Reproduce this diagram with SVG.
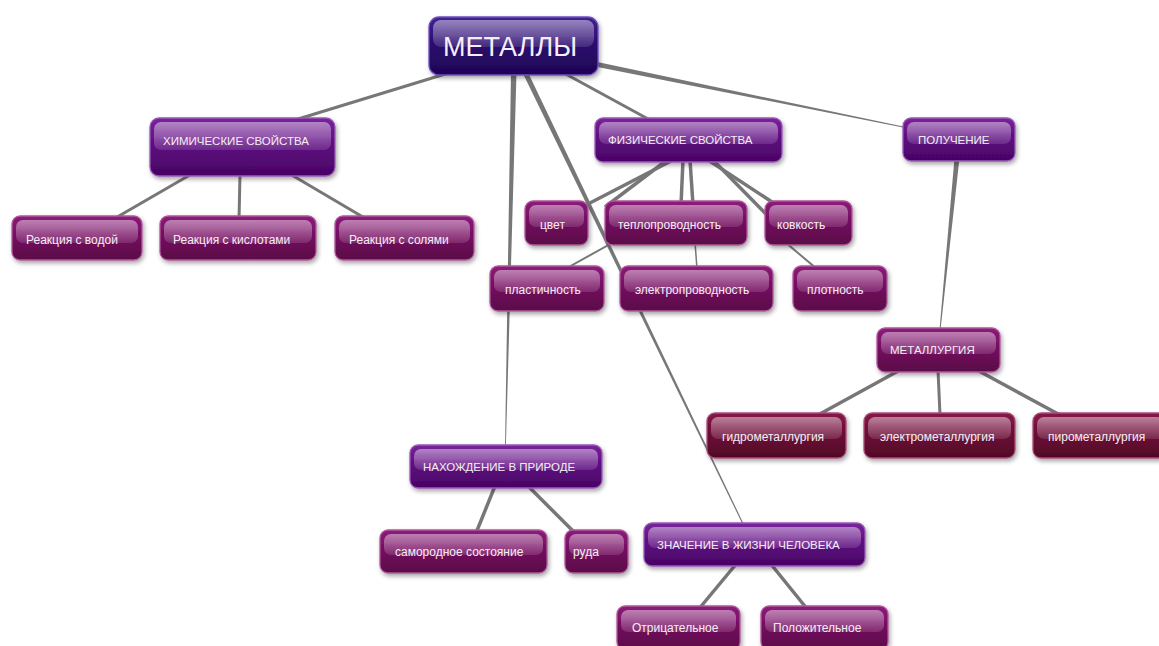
<svg xmlns="http://www.w3.org/2000/svg" width="1159" height="646" viewBox="0 0 1159 646">
<defs>
<linearGradient id="gM" x1="0" y1="0" x2="0" y2="1"><stop offset="0" stop-color="#42228e"/><stop offset="0.5" stop-color="#2a0a6c"/><stop offset="1" stop-color="#200556"/></linearGradient>
<linearGradient id="gP" x1="0" y1="0" x2="0" y2="1"><stop offset="0" stop-color="#78249a"/><stop offset="0.5" stop-color="#5c0a7e"/><stop offset="1" stop-color="#480564"/></linearGradient>
<linearGradient id="gL" x1="0" y1="0" x2="0" y2="1"><stop offset="0" stop-color="#8c1c7a"/><stop offset="0.5" stop-color="#720c5e"/><stop offset="1" stop-color="#5a0746"/></linearGradient>
<linearGradient id="gR" x1="0" y1="0" x2="0" y2="1"><stop offset="0" stop-color="#861848"/><stop offset="0.5" stop-color="#6a0a34"/><stop offset="1" stop-color="#520626"/></linearGradient>
<linearGradient id="gloss" x1="0" y1="0" x2="0" y2="1"><stop offset="0" stop-color="#fff" stop-opacity="0.45"/><stop offset="1" stop-color="#fff" stop-opacity="0.12"/></linearGradient>
<filter id="sh" x="-10%" y="-20%" width="125%" height="160%"><feDropShadow dx="1.5" dy="2.5" stdDeviation="2" flood-color="#000" flood-opacity="0.35"/></filter>
</defs>
<style>
.box{filter:url(#sh);stroke-width:1.3}
.m .box{fill:url(#gM);stroke:#6c50c0}
.p .box{fill:url(#gP);stroke:#9a5ab8}
.l .box{fill:url(#gL);stroke:#b05a9c}
.r .box{fill:url(#gR);stroke:#a8507a}
.gl{fill:url(#gloss)}
text{font-family:"Liberation Sans",Arial,sans-serif;fill:#f6eef6;font-size:12px}
.up{font-size:11.5px}
.big{font-size:27px}
#connectors line{stroke:#777;stroke-linecap:butt}
#connectors polygon{fill:#777}
</style>
<rect width="1159" height="646" fill="#fff"/>
<g id="connectors">
<line x1="455" y1="71" x2="285" y2="123" stroke-width="3"/>
<line x1="195" y1="172" x2="112" y2="220" stroke-width="3"/>
<line x1="240" y1="174" x2="239" y2="220" stroke-width="3"/>
<line x1="290" y1="174" x2="368" y2="220" stroke-width="3"/>
<line x1="562" y1="72" x2="650" y2="120" stroke-width="3"/>
<polygon points="511,72 516.5,72 505.8,448 505,448"/>
<polygon points="522.2,72 527.8,72 745.6,528 744.4,528"/>
<polygon points="595,61.5 908,127.5 908,128.5 595,66.5"/>
<polygon points="954.5,158 959.5,158 940.5,330 939.5,330"/>
<line x1="673" y1="160" x2="588" y2="204" stroke-width="3.5"/>
<line x1="667" y1="160" x2="605" y2="207" stroke-width="3.5"/>
<line x1="612" y1="243" x2="558" y2="273" stroke-width="2"/>
<line x1="683" y1="160" x2="681" y2="205" stroke-width="3.5"/>
<line x1="690" y1="160" x2="693" y2="205" stroke-width="3.5"/>
<line x1="695" y1="242" x2="697" y2="269" stroke-width="1.5"/>
<line x1="708" y1="160" x2="775" y2="204" stroke-width="3.5"/>
<line x1="713" y1="160" x2="766" y2="214" stroke-width="3.5"/>
<line x1="785" y1="242" x2="817" y2="269" stroke-width="2"/>
<line x1="900" y1="370" x2="818" y2="415" stroke-width="3.5"/>
<line x1="938" y1="370" x2="940" y2="415" stroke-width="3"/>
<line x1="977" y1="370" x2="1060" y2="415" stroke-width="3.5"/>
<line x1="495" y1="486" x2="476" y2="533" stroke-width="3.5"/>
<line x1="528" y1="486" x2="575" y2="533" stroke-width="3.5"/>
<line x1="737" y1="563" x2="698" y2="610" stroke-width="3.5"/>
<line x1="770" y1="563" x2="808" y2="610" stroke-width="3.5"/>
</g>
<g id="n-metally" class="m"><rect class="box" x="429" y="17" width="169" height="58" rx="10"/><rect class="gl" x="433" y="20" width="161" height="27" rx="8"/><text class="big" x="443" y="56">МЕТАЛЛЫ</text></g>
<g id="n-him" class="p"><rect class="box" x="150" y="118" width="185" height="58" rx="9"/><rect class="gl" x="154" y="122" width="177" height="28" rx="7"/><text class="up" x="163" y="145">ХИМИЧЕСКИЕ СВОЙСТВА</text></g>
<g id="n-voda" class="l"><rect class="box" x="12" y="216" width="130" height="44" rx="8"/><rect class="gl" x="16" y="220" width="122" height="23" rx="7"/><text x="26" y="244">Реакция с водой</text></g>
<g id="n-kisl" class="l"><rect class="box" x="160" y="216" width="156" height="44" rx="8"/><rect class="gl" x="164" y="220" width="148" height="23" rx="7"/><text x="173" y="244">Реакция с кислотами</text></g>
<g id="n-soli" class="l"><rect class="box" x="335" y="216" width="139" height="44" rx="8"/><rect class="gl" x="339" y="220" width="131" height="23" rx="7"/><text x="349" y="244">Реакция с солями</text></g>
<g id="n-fiz" class="p"><rect class="box" x="595" y="118" width="187" height="44" rx="8"/><rect class="gl" x="599" y="122" width="179" height="22" rx="7"/><text class="up" x="608" y="144">ФИЗИЧЕСКИЕ СВОЙСТВА</text></g>
<g id="n-poluch" class="p"><rect class="box" x="903" y="118" width="112" height="43" rx="8"/><rect class="gl" x="907" y="122" width="104" height="22" rx="7"/><text class="up" x="918" y="144">ПОЛУЧЕНИЕ</text></g>
<g id="n-cvet" class="l"><rect class="box" x="525" y="201" width="63" height="44" rx="8"/><rect class="gl" x="529" y="205" width="55" height="22" rx="7"/><text x="540" y="229">цвет</text></g>
<g id="n-teplo" class="l"><rect class="box" x="605" y="201" width="142" height="44" rx="8"/><rect class="gl" x="609" y="205" width="134" height="22" rx="7"/><text x="618" y="229">теплопроводность</text></g>
<g id="n-kovk" class="l"><rect class="box" x="765" y="201" width="87" height="44" rx="8"/><rect class="gl" x="769" y="205" width="79" height="22" rx="7"/><text x="777" y="229">ковкость</text></g>
<g id="n-plast" class="l"><rect class="box" x="490" y="266" width="114" height="45" rx="8"/><rect class="gl" x="494" y="270" width="106" height="22" rx="7"/><text x="505" y="294">пластичность</text></g>
<g id="n-elektro" class="l"><rect class="box" x="620" y="266" width="153" height="45" rx="8"/><rect class="gl" x="624" y="270" width="145" height="22" rx="7"/><text x="635" y="294">электропроводность</text></g>
<g id="n-plotn" class="l"><rect class="box" x="793" y="266" width="94" height="45" rx="8"/><rect class="gl" x="797" y="270" width="86" height="22" rx="7"/><text x="807" y="294">плотность</text></g>
<g id="n-metallurg" class="l"><rect class="box" x="877" y="328" width="123" height="44" rx="8"/><rect class="gl" x="881" y="332" width="115" height="22" rx="7"/><text class="up" x="890" y="354">МЕТАЛЛУРГИЯ</text></g>
<g id="n-gidro" class="r"><rect class="box" x="707" y="413" width="139" height="45" rx="8"/><rect class="gl" x="711" y="417" width="131" height="22" rx="7"/><text x="722" y="441">гидрометаллургия</text></g>
<g id="n-elmet" class="r"><rect class="box" x="864" y="413" width="151" height="45" rx="8"/><rect class="gl" x="868" y="417" width="143" height="22" rx="7"/><text x="880" y="441">электрометаллургия</text></g>
<g id="n-piro" class="r"><rect class="box" x="1033" y="413" width="135" height="45" rx="8"/><rect class="gl" x="1037" y="417" width="127" height="22" rx="7"/><text x="1048" y="441">пирометаллургия</text></g>
<g id="n-nahozh" class="p"><rect class="box" x="410" y="445" width="192" height="43" rx="8"/><rect class="gl" x="414" y="449" width="184" height="21" rx="7"/><text class="up" x="423" y="471">НАХОЖДЕНИЕ В ПРИРОДЕ</text></g>
<g id="n-samor" class="l"><rect class="box" x="380" y="530" width="167" height="43" rx="8"/><rect class="gl" x="384" y="534" width="159" height="21" rx="7"/><text x="395" y="556">самородное состояние</text></g>
<g id="n-ruda" class="l"><rect class="box" x="565" y="530" width="63" height="43" rx="8"/><rect class="gl" x="569" y="534" width="55" height="21" rx="7"/><text x="573" y="556">руда</text></g>
<g id="n-znach" class="p"><rect class="box" x="644" y="523" width="221" height="43" rx="8"/><rect class="gl" x="648" y="527" width="213" height="21" rx="7"/><text class="up" x="657" y="549">ЗНАЧЕНИЕ В ЖИЗНИ ЧЕЛОВЕКА</text></g>
<g id="n-otr" class="l"><rect class="box" x="617" y="606" width="123" height="44" rx="8"/><rect class="gl" x="621" y="610" width="115" height="22" rx="7"/><text x="632" y="632">Отрицательное</text></g>
<g id="n-pol" class="l"><rect class="box" x="761" y="606" width="127" height="44" rx="8"/><rect class="gl" x="765" y="610" width="119" height="22" rx="7"/><text x="773" y="632">Положительное</text></g>
</svg>
